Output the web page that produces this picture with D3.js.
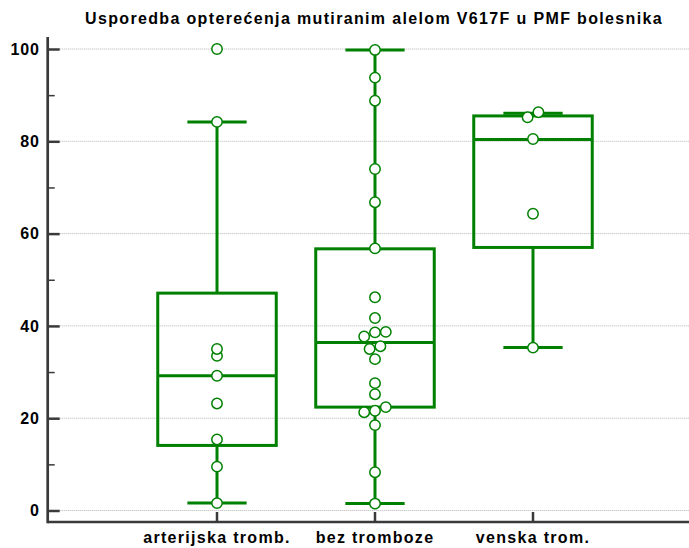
<!DOCTYPE html>
<html>
<head>
<meta charset="utf-8">
<script src="https://cdn.jsdelivr.net/npm/d3@7/dist/d3.min.js"></script>
<style>
  html, body { margin: 0; padding: 0; background: #fff; }
  svg { display: block; font-family: "Liberation Sans", Arial, sans-serif; }
</style>
</head>
<body>
<svg id="chart" width="689" height="548"></svg>
<script>
// Groups and their individual observations (% V617F allele burden)
const categories = ["arterijska tromb.", "bez tromboze", "venska trom."];

const arterialValues = [100, 84.2, 35.0, 33.5, 29.2, 23.2, 15.4, 9.5, 1.6];
const noThrombosisValues = [99.8, 93.8, 88.8, 74.0, 66.8, 56.8, 46.2, 41.7, 38.7, 38.6, 37.7,
                            35.6, 35.0, 32.8, 27.6, 25.2, 22.4, 21.6, 21.3, 18.5, 8.3, 1.5];
const venousValues = [86.3, 85.2, 80.5, 64.3, 35.3];

// Box-and-whisker summaries per group
const whiskerLow  = [1.6, 1.5, 35.3];
const q1          = [14.1, 22.4, 57.0];
const medians     = [29.2, 36.4, 80.4];
const q3          = [47.1, 56.7, 85.5];
const whiskerHigh = [84.2, 99.8, 86.1];

const yTicks = [0, 20, 40, 60, 80, 100];
const yMinorTicks = [10, 30, 50, 70, 90];

const title = "Usporedba opterećenja mutiranim alelom V617F u PMF bolesnika";

const groups = [arterialValues, noThrombosisValues, venousValues];

const W = 689, H = 548;
const axisX = 47.7, axisY = 522;
const green = "#008000";
const axisColor = "#3a3a3a";

const svg = d3.select("#chart");

const y = d3.scaleLinear().domain([0, 100]).range([510.5, 49]);
const x = d3.scaleBand().domain(categories).range([138, 612]).padding(0);
const boxW = x.bandwidth() * 0.75;
const capW = boxW * 0.5;
const cx = c => x(c) + x.bandwidth() / 2;

// Grid lines
svg.append("g")
  .selectAll("line")
  .data(yTicks)
  .join("line")
  .attr("x1", axisX + 12).attr("x2", W)
  .attr("y1", d => y(d)).attr("y2", d => y(d))
  .attr("stroke", "#b4b4b4")
  .attr("stroke-width", 1)
  .attr("stroke-dasharray", "1,1");

// Y axis: major ticks with labels, drawn inward
const yAxis = svg.append("g")
  .attr("transform", `translate(${axisX},0)`)
  .call(d3.axisLeft(y).tickValues(yTicks).tickSizeInner(-12).tickSizeOuter(0).tickPadding(8));
yAxis.select(".domain").remove();
yAxis.selectAll(".tick line").attr("stroke", axisColor).attr("stroke-width", 2.5);
yAxis.selectAll(".tick text")
  .attr("fill", "#000")
  .style("font-size", "16px")
  .style("font-weight", "bold")
  .style("letter-spacing", "0.8px")
  .style("font-family", "'Liberation Sans', Arial, sans-serif");

// Y axis minor ticks
const yMinor = svg.append("g")
  .attr("transform", `translate(${axisX},0)`)
  .call(d3.axisLeft(y).tickValues(yMinorTicks).tickSizeInner(-7).tickSizeOuter(0).tickFormat(""));
yMinor.select(".domain").remove();
yMinor.selectAll(".tick line").attr("stroke", axisColor).attr("stroke-width", 1.5);

// X axis with category ticks pointing up
const xAxis = svg.append("g")
  .attr("transform", `translate(0,${axisY})`)
  .call(d3.axisBottom(x).tickSizeInner(-10).tickSizeOuter(0).tickPadding(9.5));
xAxis.select(".domain").remove();
xAxis.selectAll(".tick line").attr("stroke", axisColor).attr("stroke-width", 2.5);
xAxis.selectAll(".tick text")
  .attr("fill", "#000")
  .style("font-size", "16px")
  .style("font-weight", "bold")
  .style("letter-spacing", "1.3px")
  .style("font-family", "'Liberation Sans', Arial, sans-serif");

// Axis lines
svg.append("line")
  .attr("x1", axisX).attr("x2", axisX)
  .attr("y1", 37).attr("y2", axisY + 1.25)
  .attr("stroke", axisColor).attr("stroke-width", 2.7);
svg.append("line")
  .attr("x1", axisX).attr("x2", W)
  .attr("y1", axisY).attr("y2", axisY)
  .attr("stroke", axisColor).attr("stroke-width", 2.7);

// Boxes and whiskers
const boxes = svg.append("g");
categories.forEach((c, i) => {
  const m = cx(c);
  const g = boxes.append("g")
    .attr("stroke", green)
    .attr("fill", "none");
  // whiskers
  g.append("line").attr("x1", m).attr("x2", m)
    .attr("y1", y(q3[i])).attr("y2", y(whiskerHigh[i])).attr("stroke-width", 3);
  g.append("line").attr("x1", m).attr("x2", m)
    .attr("y1", y(q1[i])).attr("y2", y(whiskerLow[i])).attr("stroke-width", 3);
  // caps
  g.append("line").attr("x1", m - capW / 2).attr("x2", m + capW / 2)
    .attr("y1", y(whiskerHigh[i])).attr("y2", y(whiskerHigh[i])).attr("stroke-width", 3);
  g.append("line").attr("x1", m - capW / 2).attr("x2", m + capW / 2)
    .attr("y1", y(whiskerLow[i])).attr("y2", y(whiskerLow[i])).attr("stroke-width", 3);
  // box
  g.append("rect")
    .attr("x", m - boxW / 2).attr("width", boxW)
    .attr("y", y(q3[i])).attr("height", y(q1[i]) - y(q3[i]))
    .attr("stroke-width", 3);
  // median
  g.append("line").attr("x1", m - boxW / 2).attr("x2", m + boxW / 2)
    .attr("y1", y(medians[i])).attr("y2", y(medians[i])).attr("stroke-width", 3);
});

// Observations: values that nearly coincide are spread side by side
function dodge(values, unit, tol) {
  const sorted = values.slice().sort((a, b) => a - b);
  const out = [];
  let grp = [];
  const flush = () => {
    grp.forEach((v, k) => out.push({ v, dx: (k - (grp.length - 1) / 2) * unit }));
    grp = [];
  };
  sorted.forEach(v => {
    if (grp.length && v - grp[0] > tol) flush();
    grp.push(v);
  });
  flush();
  return out;
}

const pts = svg.append("g");
categories.forEach((c, i) => {
  const m = cx(c);
  pts.append("g")
    .selectAll("circle")
    .data(dodge(groups[i], 10.8, 1.3))
    .join("circle")
    .attr("cx", d => m + d.dx)
    .attr("cy", d => y(d.v))
    .attr("r", 5.2)
    .attr("fill", "#fff")
    .attr("stroke", green)
    .attr("stroke-width", 1.5);
});

// Title
svg.append("text")
  .attr("x", 374).attr("y", 24)
  .attr("text-anchor", "middle")
  .attr("fill", "#000")
  .style("font-size", "16px")
  .style("font-weight", "bold")
  .style("letter-spacing", "1.35px")
  .text(title);
</script>
</body>
</html>
